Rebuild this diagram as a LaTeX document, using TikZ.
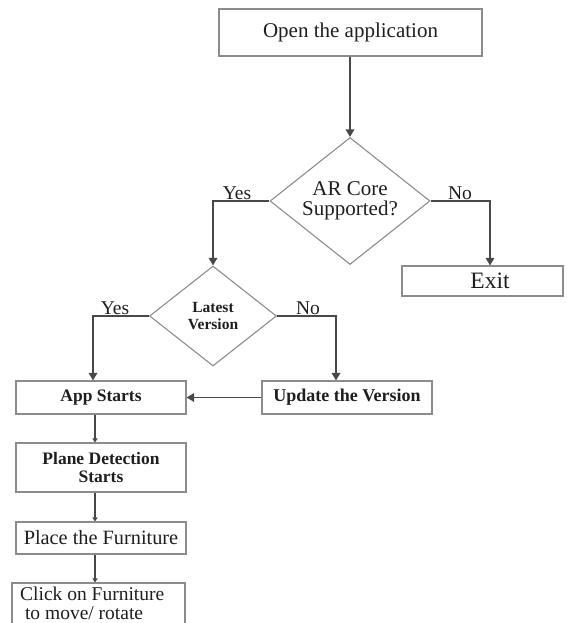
\documentclass[tikz,border=0pt]{standalone}
\usepackage{fontspec}
\setmainfont{Liberation Serif}
\usetikzlibrary{shapes.geometric,arrows.meta}
\definecolor{boxc}{HTML}{8C8C8C}
\definecolor{linec}{HTML}{484848}
\definecolor{txtc}{HTML}{1E1E1E}
\begin{document}
\begin{tikzpicture}[x=1pt,y=-1pt,
  box/.style={draw=boxc,line width=1.1pt,rectangle,inner sep=0pt,text=txtc},
  dia/.style={draw=boxc,line width=1.1pt,diamond,inner sep=0pt,align=center,text=txtc},
  conn/.style={draw=linec,line width=1.6pt,-{Triangle[width=8.5pt,length=7.5pt]}},
  sconn/.style={draw=linec,line width=1.1pt,-{Triangle[width=5pt,length=4pt]}},
  lbl/.style={text=txtc,inner sep=0pt,font=\fontsize{19.5}{21}\selectfont}]
\useasboundingbox (0,0) rectangle (566,623);
\clip (0,0) rectangle (566,623);

\node[box,minimum width=263pt,minimum height=47pt,font=\fontsize{21}{23}\selectfont] (open) at (350.5,32.5) {Open the application};
\node[dia,minimum width=160pt,minimum height=127pt,aspect=1.26,font=\fontsize{21}{20.5}\selectfont] (ar) at (350,201) {AR Core\\Supported?};
\node[box,minimum width=161pt,minimum height=30pt] (exit) at (482.5,281) {};
\node[text=txtc,inner sep=0pt,font=\fontsize{23.5}{25}\selectfont] (exitt) at (490,281) {Exit};
\node[dia,minimum width=127pt,minimum height=100pt,aspect=1.27,font=\bfseries\fontsize{15.5}{17}\selectfont] (latest) at (213,316) {Latest\\Version};
\node[box,minimum width=170pt,minimum height=33pt,font=\bfseries\fontsize{17.5}{19}\selectfont] (app) at (101,397.5) {App Starts};
\node[box,minimum width=170pt,minimum height=33pt,font=\bfseries\fontsize{18}{19}\selectfont] (update) at (347,397.5) {Update the Version};
\node[box,minimum width=170pt,minimum height=49pt,align=center,font=\bfseries\fontsize{17.5}{18}\selectfont] (plane) at (101,467.5) {Plane Detection\\Starts};
\node[box,minimum width=170pt,minimum height=32pt,font=\fontsize{20.3}{22}\selectfont] (place) at (101,538) {Place the Furniture};
\node[box,minimum width=173pt,minimum height=60pt] (click) at (98.5,613) {};
\node[anchor=west,align=left,font=\fontsize{19.5}{19}\selectfont,text=txtc,inner sep=0pt] (clickt) at (20,603.5) {Click on Furniture\\\ to move/ rotate};

\draw[conn] (ar.north |- open.south) -- (ar.north);
\draw[conn] (ar.west) -| (latest.north);
\draw[conn] (ar.east) -| (exitt.north |- exit.north);
\node[lbl] (yes1) at (237,193) {Yes};
\node[lbl] (no1) at (460,193) {No};
\draw[conn] (latest.west) -| ([xshift=-8pt]app.north);
\draw[conn] (latest.east) -| ([xshift=-11pt]update.north);
\node[lbl] (yes2) at (115,308) {Yes};
\node[lbl] (no2) at (308,308) {No};
\draw[conn] (update.west) -- (app.east);
\draw[sconn] ([xshift=-6pt]app.south) -- ([xshift=-6pt]plane.north);
\draw[sconn] ([xshift=-6pt]plane.south) -- ([xshift=-6pt]place.north);
\draw[sconn] ([xshift=-6pt]place.south) -- ([xshift=-3.5pt]click.north);
\end{tikzpicture}
\end{document}
